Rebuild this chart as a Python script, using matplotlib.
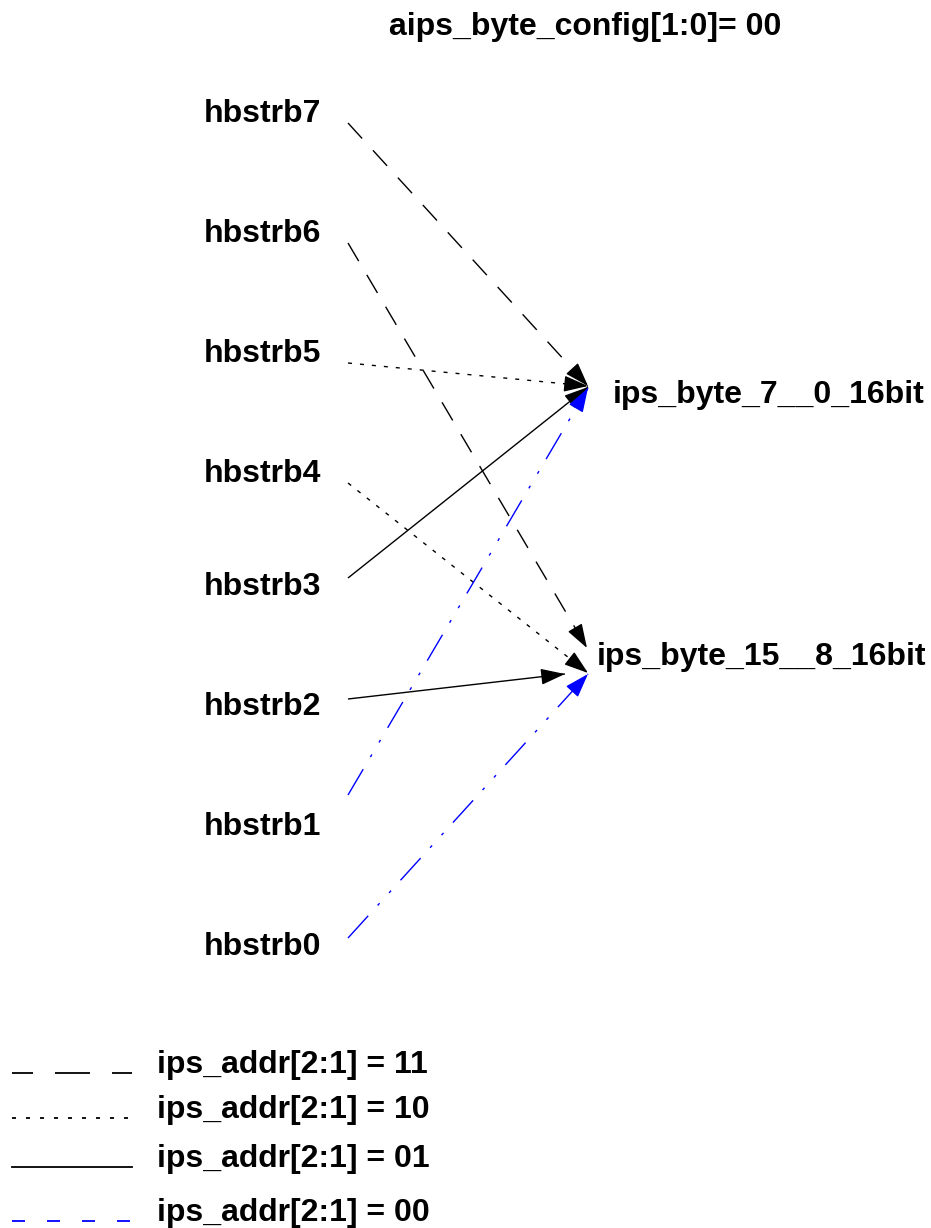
import numpy as np
import matplotlib
matplotlib.use("Agg")
import matplotlib.pyplot as plt

plt.rcParams['font.family'] = ['Liberation Sans', 'DejaVu Sans']
plt.rcParams['lines.scale_dashes'] = False

# diagram content
title = "aips_byte_config[1:0]= 00"
sources = ['hbstrb7', 'hbstrb6', 'hbstrb5', 'hbstrb4',
           'hbstrb3', 'hbstrb2', 'hbstrb1', 'hbstrb0']
targets = ['ips_byte_7__0_16bit', 'ips_byte_15__8_16bit']
# which target each source goes to, and under which ips_addr value
edge_target = [0, 1, 0, 1, 0, 1, 0, 1]
edge_addr = ['11', '11', '10', '10', '01', '01', '00', '00']
addr_codes = ['11', '10', '01', '00']
legend_labels = ['ips_addr[2:1] = 11', 'ips_addr[2:1] = 10',
                 'ips_addr[2:1] = 01', 'ips_addr[2:1] = 00']

# layout (pixels of the 931x1228 canvas)
W, H = 931, 1228
src_label_x = 321
src_baseline = [122, 242, 362, 482, 595, 715, 835, 955]
src_line_x = 348
src_line_y = [123, 243, 363, 483, 578, 699, 795, 938]
tip_x = [588, 587, 588, 588, 588, 565, 588, 588]
tip_y = [386, 648, 386, 673, 387, 674, 388, 674]
tgt_label_x = [613, 597]
tgt_baseline = [403, 665]
leg_x0, leg_x1, leg_text_x = 12, 132, 157
leg_baseline = [1073, 1118, 1167, 1221]

px = 72.0 / 100  # pixel -> point at dpi 100

def pat(seq, off=0):
    return (off * px, tuple(v * px for v in seq))

colors = {'11': 'black', '10': 'black', '01': 'black', '00': '#0000ff'}
styles = {'11': pat((21, 16)), '10': pat((4, 8)), '01': 'solid',
          '00': pat((30, 14, 3, 14, 3, 14))}
leg_styles = {'11': pat((35, 22), 14), '10': pat((4, 10)), '01': 'solid',
              '00': pat((13, 22))}
lw = 1.0

fig = plt.figure(figsize=(W / 100, H / 100), dpi=100)
ax = fig.add_axes([0, 0, 1, 1])
ax.set_xlim(0, W)
ax.set_ylim(H, 0)
ax.axis('off')

font = dict(fontsize=23, fontweight='bold', color='black')

ax.text(585, 35, title, ha='center', va='baseline', **font)

for name, yb in zip(sources, src_baseline):
    ax.text(src_label_x, yb, name, ha='right', va='baseline', **font)

for name, x, yb in zip(targets, tgt_label_x, tgt_baseline):
    ax.text(x, yb, name, ha='left', va='baseline', **font)

# edges with arrowheads
for i in range(len(sources)):
    code = edge_addr[i]
    c = colors[code]
    x0, y0 = src_line_x, src_line_y[i]
    x1, y1 = tip_x[i], tip_y[i]
    ax.plot([x0, x1], [y0, y1], color=c, lw=lw,
            linestyle=styles[code], solid_capstyle='butt', dash_capstyle='butt')
    d = np.array([x1 - x0, y1 - y0], dtype=float)
    d /= np.hypot(*d)
    bx, by = x1 - 22 * d[0], y1 - 22 * d[1]
    ax.annotate('', xy=(x1, y1), xytext=(bx, by),
                arrowprops=dict(arrowstyle='-|>,head_length=1.5,head_width=0.5',
                                mutation_scale=10, color=c, lw=lw,
                                shrinkA=0, shrinkB=0))

# legend
for code, lab, yb in zip(addr_codes, legend_labels, leg_baseline):
    ax.plot([leg_x0, leg_x1], [yb, yb], color=colors[code], lw=1.3,
            linestyle=leg_styles[code], dash_capstyle='butt')
    ax.text(leg_text_x, yb, lab, ha='left', va='baseline', **font)

fig.savefig('out.png', dpi=100)
